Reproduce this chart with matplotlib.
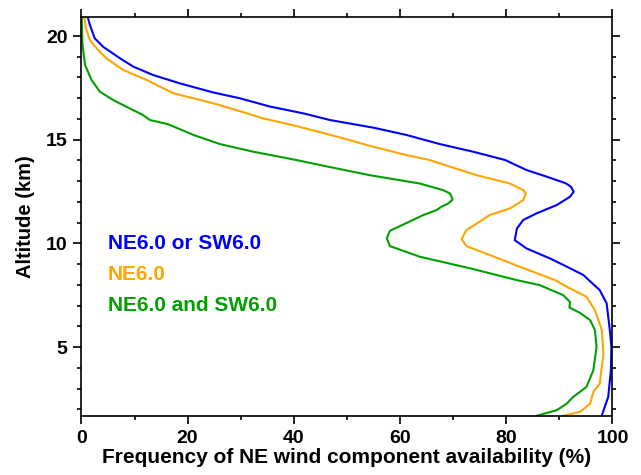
import matplotlib
matplotlib.use('Agg')
import matplotlib.pyplot as plt
from matplotlib.ticker import MultipleLocator

plt.rcParams['font.family'] = ['Liberation Sans', 'DejaVu Sans']
plt.rcParams['font.weight'] = 'bold'

# altitude (km) and frequency (%) for each curve, read top to bottom
alt_or = [21.0, 20.53, 19.89, 19.48, 18.92, 18.52, 18.12, 17.72, 17.28, 17.0, 16.6,
          16.27, 15.95, 15.58, 15.23, 14.79, 14.42, 14.02, 13.54, 13.22, 12.9, 12.73,
          12.49, 12.25, 11.85, 11.45, 11.13, 10.72, 10.16, 9.76, 9.28, 8.88, 8.48,
          7.75, 7.11, 5.82, 5.0, 3.89, 2.6, 1.72]
freq_or = [1.1, 1.6, 2.5, 4.1, 7.3, 9.8, 13.5, 18.5, 24.8, 29.8, 35.5,
           41.8, 46.8, 55.0, 61.2, 67.5, 73.8, 79.8, 83.8, 87.6, 91.2, 92.2,
           92.7, 92.0, 89.5, 85.7, 83.2, 82.0, 81.6, 83.8, 88.2, 91.4, 94.5,
           97.6, 98.9, 99.5, 99.8, 99.7, 99.2, 98.0]

alt_ne = [21.0, 20.37, 19.8, 19.4, 18.92, 18.36, 17.88, 17.24, 16.76, 16.38, 16.03,
          15.66, 15.13, 14.68, 14.26, 14.02, 13.86, 13.29, 12.89, 12.57, 12.41, 12.09,
          11.69, 11.37, 11.05, 10.65, 10.21, 9.87, 9.44, 8.87, 8.23, 7.91, 7.43,
          6.78, 5.82, 4.69, 3.24, 2.85, 2.28, 1.88, 1.69]
freq_ne = [0.5, 0.85, 1.6, 2.9, 4.7, 7.9, 12.3, 17.3, 24.8, 29.8, 34.2,
           40.5, 48.4, 54.7, 61.2, 65.6, 67.5, 74.4, 80.7, 83.2, 83.7, 83.2,
           80.7, 76.9, 75.0, 72.5, 71.6, 72.5, 76.9, 82.6, 89.2, 91.4, 95.1,
           96.7, 98.0, 98.3, 97.6, 96.4, 95.8, 93.9, 90.7]

alt_and = [21.0, 19.57, 18.6, 17.88, 17.31, 16.91, 16.51, 16.19, 15.95, 15.75, 15.23,
           14.79, 14.42, 14.02, 13.75, 13.29, 12.89, 12.57, 12.41, 12.12, 11.93, 11.77,
           11.61, 11.37, 10.61, 10.25, 9.87, 9.36, 8.8, 8.23, 7.99, 7.51, 7.18,
           6.91, 6.65, 6.3, 5.82, 5.01, 3.89, 3.08, 2.6, 2.28, 1.96, 1.69]
freq_and = [0.04, 0.2, 0.7, 1.9, 3.5, 6.0, 9.1, 11.6, 12.9, 16.3, 21.1,
            26.1, 32.4, 40.5, 45.5, 54.3, 63.7, 68.1, 69.4, 69.9, 69.1, 67.8,
            66.9, 64.4, 58.1, 57.5, 58.1, 63.7, 73.2, 82.0, 86.3, 90.7, 92.0,
            91.9, 93.9, 95.8, 96.7, 97.0, 96.4, 95.1, 92.6, 91.4, 89.5, 85.7]

labels = ["NE6.0 or SW6.0", "NE6.0", "NE6.0 and SW6.0"]
colors = ['#0000ff', '#ffa500', '#00a000']

fig = plt.figure(figsize=(6.41, 4.75), dpi=100)
ax = fig.add_axes([0.127, 0.1242, 0.8285, 0.8406])

for f, a, c in zip([freq_or, freq_ne, freq_and], [alt_or, alt_ne, alt_and], colors):
    ax.plot(f, a, color=c, lw=1.5)

for i, (lab, c) in enumerate(zip(labels, colors)):
    ax.text(5.0, 10.0 - i * 1.5, lab, color=c, fontsize=15, fontweight='bold',
            va='center', ha='left')

ax.set_xlim(0, 100)
ax.set_ylim(1.68, 20.93)
ax.xaxis.set_major_locator(MultipleLocator(20))
ax.xaxis.set_minor_locator(MultipleLocator(10))
ax.yaxis.set_major_locator(MultipleLocator(5))
ax.yaxis.set_minor_locator(MultipleLocator(1))
ax.tick_params(which='both', direction='out', top=True, right=True, width=1.2)
ax.tick_params(which='major', length=6, labelsize=14, pad=4)
ax.tick_params(which='minor', length=3)
ax.tick_params(top=True, right=True, labeltop=False, labelright=False)
for s in ax.spines.values():
    s.set_linewidth(1.2)

ax.set_xlabel("Frequency of NE wind component availability (%)", fontsize=15,
              fontweight='bold', labelpad=1)
ax.set_ylabel("Altitude (km)", fontsize=14.5, fontweight='bold', labelpad=8)

fig.savefig('out.png', dpi=100)
